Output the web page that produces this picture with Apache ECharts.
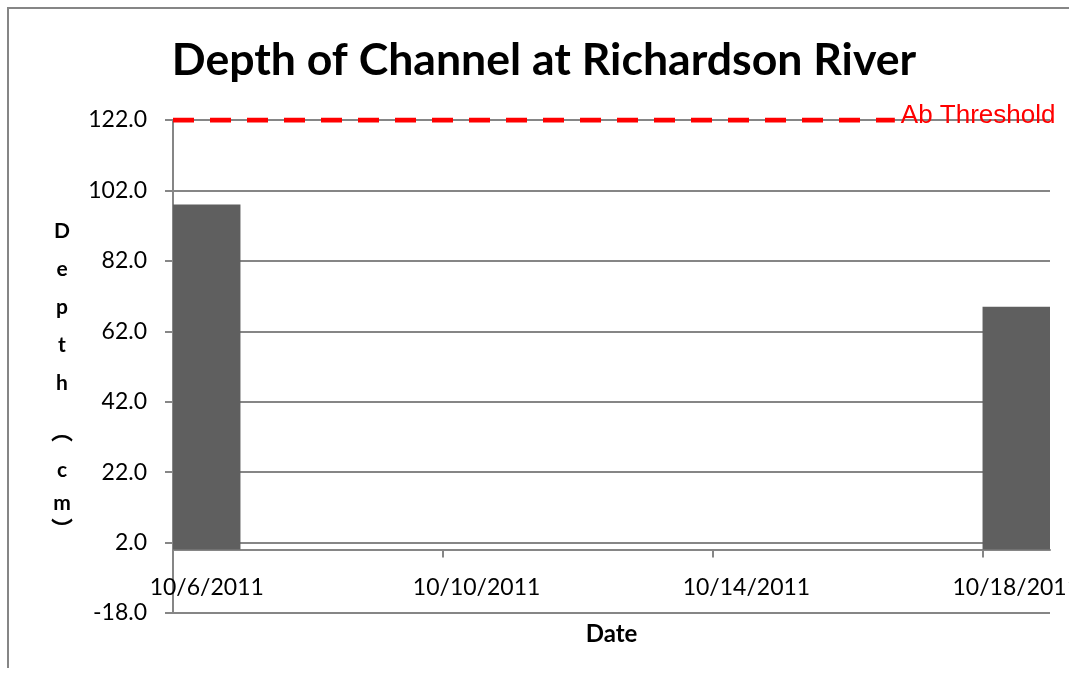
<!DOCTYPE html>
<html>
<head>
<meta charset="utf-8">
<title>Depth of Channel at Richardson River</title>
<script src="https://cdn.jsdelivr.net/npm/echarts@6/dist/echarts.min.js"></script>
<style>
  html, body { margin: 0; padding: 0; background: #ffffff; }
  #chart { width: 1069px; height: 679px; }
</style>
</head>
<body>
<div id="chart"></div>
<script>
// Daily date axis (one band per day)
const dayLabels = [
  '10/6/2011', '10/7/2011', '10/8/2011', '10/9/2011', '10/10/2011',
  '10/11/2011', '10/12/2011', '10/13/2011', '10/14/2011', '10/15/2011',
  '10/16/2011', '10/17/2011', '10/18/2011'
];
// a date label (and tick) every 4 days
const labelEvery = 4;

// Measured channel depth (cm) on sampling days
const sampleDates = ['10/6/2011', '10/18/2011'];
const depthCm = [98, 69];

// Threshold level (cm) and its extent along the date axis, in days from 10/6/2011
const thresholdCm = 122;
const thresholdSpanDays = [0, 10.7];

// Value axis ticks
const yMin = -18;
const yMax = 122;
const yStep = 20;

const depthByDay = dayLabels.map(d => {
  const i = sampleDates.indexOf(d);
  return i >= 0 ? depthCm[i] : null;
});
const tickDays = dayLabels.map((d, i) => i).filter(i => i % labelEvery === 0);

const GRAY = '#868686';
const FONT = 'Lato';

// Plot box
const GRID = { left: 173, right: 19, top: 120, bottom: 66 };
const plotHeight = 679 - GRID.top - GRID.bottom;
// the date axis crosses the depth axis at 0 cm
const zeroFromBottom = plotHeight * (0 - yMin) / (yMax - yMin);

const chart = echarts.init(document.getElementById('chart'), null, { renderer: 'canvas' });

chart.setOption({
  backgroundColor: '#ffffff',
  animation: false,
  title: {
    text: 'Depth of Channel at Richardson River',
    left: 539,
    textAlign: 'center',
    top: 33,
    textStyle: { fontFamily: FONT, fontWeight: 'bold', fontSize: 44.6, color: '#000000' }
  },
  grid: Object.assign({ containLabel: false, outerBoundsMode: 'none' }, GRID),
  xAxis: [
    {
      type: 'category',
      data: dayLabels,
      boundaryGap: true,
      position: 'bottom',
      offset: -zeroFromBottom,
      name: 'Date',
      nameLocation: 'middle',
      nameGap: 73,
      nameTextStyle: { fontFamily: FONT, fontWeight: 'bold', fontSize: 24, color: '#000000' },
      axisLine: { show: true, onZero: false, lineStyle: { color: GRAY, width: 2 } },
      axisTick: { show: false },
      axisLabel: { interval: labelEvery - 1, margin: 26, fontFamily: FONT, fontSize: 23, color: '#000000' },
      splitLine: { show: false }
    },
    {
      // day scale: carries the date ticks and the threshold line
      type: 'value',
      min: 0,
      max: dayLabels.length,
      position: 'bottom',
      offset: -zeroFromBottom,
      axisLine: { show: false, onZero: false },
      axisTick: { show: true, customValues: tickDays, length: 8, inside: false, lineStyle: { color: GRAY, width: 2 } },
      axisLabel: { show: false },
      splitLine: { show: false }
    }
  ],
  yAxis: {
    type: 'value',
    min: yMin,
    max: yMax,
    interval: yStep,
    name: '{l|D}\n{l|e}\n{l|p}\n{l|t}\n{l|h}\n{s| }\n{o|︵}\n{m|c}\n{m|m}\n{q|︶}',
    nameLocation: 'middle',
    nameRotate: 0,
    nameGap: 111,
    nameTextStyle: {
      align: 'center',
      verticalAlign: 'middle',
      padding: [18, 0, 0, 0],
      rich: {
        l: { fontFamily: FONT, fontWeight: 'bold', fontSize: 21, lineHeight: 38, color: '#000000', align: 'center' },
        m: { fontFamily: FONT, fontWeight: 'bold', fontSize: 21, lineHeight: 33, color: '#000000', align: 'center' },
        s: { fontSize: 4, lineHeight: 5 },
        o: { fontFamily: 'Noto Sans CJK SC', fontWeight: 'bold', fontSize: 22, lineHeight: 46, color: '#000000', align: 'center' },
        q: { fontFamily: 'Noto Sans CJK SC', fontWeight: 'bold', fontSize: 22, lineHeight: 19, color: '#000000', align: 'center' }
      }
    },
    axisLine: { show: true, lineStyle: { color: GRAY, width: 2 } },
    axisTick: { show: true, length: 8, inside: false, lineStyle: { color: GRAY, width: 2 } },
    axisLabel: {
      margin: 26,
      fontFamily: FONT,
      fontSize: 23,
      color: '#000000',
      formatter: v => v.toFixed(1)
    },
    splitLine: { show: true, lineStyle: { color: GRAY, width: 2 } }
  },
  series: [
    {
      name: 'Depth',
      type: 'bar',
      xAxisIndex: 0,
      data: depthByDay,
      barWidth: '100%',
      barCategoryGap: 0,
      itemStyle: { color: '#5f5f5f' },
      z: 2
    },
    {
      name: 'Ab Threshold',
      type: 'line',
      xAxisIndex: 1,
      data: thresholdSpanDays.map(d => [d, thresholdCm]),
      symbol: 'none',
      lineStyle: { color: '#ff0000', width: 5, type: [21, 16], cap: 'butt' },
      endLabel: {
        show: true,
        formatter: 'Ab Threshold',
        color: '#ff0000',
        fontFamily: 'Liberation Sans',
        fontSize: 26,
        distance: 6,
        offset: [0, -4]
      },
      z: 3
    }
  ],
  graphic: [
    {
      type: 'polyline',
      shape: { points: [[8, 668], [8, 8], [1069, 8]] },
      style: { stroke: GRAY, lineWidth: 2, fill: null },
      silent: true
    }
  ]
});
</script>
</body>
</html>
